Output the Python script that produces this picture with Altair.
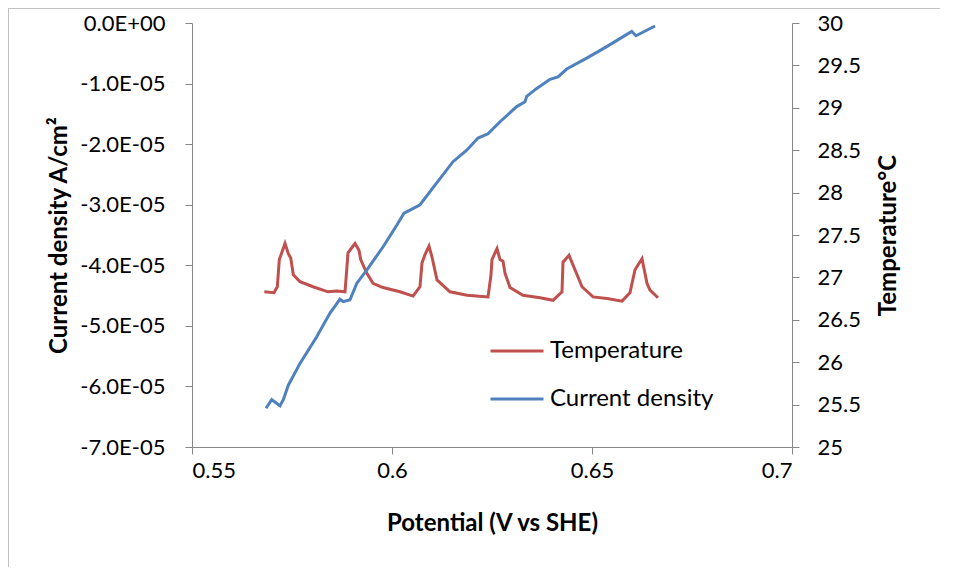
import altair as alt
import pandas as pd

# ---- data ----
cd_potential = [0.56850, 0.56993, 0.57200, 0.57283, 0.57408, 0.57700, 0.58118, 0.58450,
                0.58700, 0.58783, 0.58950, 0.59118, 0.59368, 0.59783, 0.60118, 0.60300,
                0.60450, 0.60700, 0.61118, 0.61525, 0.61868, 0.62150, 0.62400, 0.62700,
                0.63118, 0.63325, 0.63368, 0.63618, 0.63950, 0.64150, 0.64368, 0.64868,
                0.65368, 0.65993, 0.66100, 0.66575]
cd_values = [-6.36e-5, -6.22e-5, -6.32e-5, -6.22e-5, -5.98e-5, -5.62e-5, -5.18e-5, -4.79e-5,
             -4.56e-5, -4.60e-5, -4.57e-5, -4.30e-5, -4.08e-5, -3.69e-5, -3.34e-5, -3.14e-5,
             -3.09e-5, -3.00e-5, -2.64e-5, -2.29e-5, -2.10e-5, -1.90e-5, -1.83e-5, -1.63e-5,
             -1.38e-5, -1.30e-5, -1.21e-5, -1.08e-5, -0.93e-5, -0.89e-5, -0.76e-5, -0.58e-5,
             -0.39e-5, -0.14e-5, -0.21e-5, -0.05e-5]

temp_potential = [0.56808, 0.57050, 0.57133, 0.57183, 0.57325, 0.57408, 0.57468, 0.57533,
                  0.57700, 0.58025, 0.58400, 0.58618, 0.58825, 0.58868, 0.58900, 0.59075,
                  0.59175, 0.59218, 0.59368, 0.59525, 0.59775, 0.60200, 0.60525, 0.60700,
                  0.60750, 0.60825, 0.60925, 0.61000, 0.61125, 0.61450, 0.61875, 0.62400,
                  0.62475, 0.62500, 0.62625, 0.62700, 0.62775, 0.62825, 0.62950, 0.63275,
                  0.63700, 0.64025, 0.64250, 0.64275, 0.64425, 0.64575, 0.64750, 0.65025,
                  0.65375, 0.65750, 0.65950, 0.66075, 0.66250, 0.66375, 0.66450, 0.66650]
temp_values = [26.83, 26.82, 26.89, 27.21, 27.40, 27.28, 27.23, 27.03,
               26.95, 26.89, 26.83, 26.84, 26.83, 27.09, 27.29, 27.40,
               27.32, 27.21, 27.05, 26.93, 26.88, 26.83, 26.78, 26.89,
               27.17, 27.27, 27.37, 27.24, 26.97, 26.83, 26.79, 26.77,
               27.03, 27.21, 27.34, 27.21, 27.19, 27.05, 26.88, 26.79,
               26.76, 26.73, 26.83, 27.18, 27.26, 27.09, 26.89, 26.77,
               26.75, 26.72, 26.82, 27.09, 27.22, 26.93, 26.85, 26.76]

series_names = ["Temperature", "Current density"]
series_colors = ["#C0504D", "#4F81BD"]

x_ticks = [0.55, 0.6, 0.65, 0.7]
cd_ticks = [0, -1e-5, -2e-5, -3e-5, -4e-5, -5e-5, -6e-5, -7e-5]
temp_ticks = [25, 25.5, 26, 26.5, 27, 27.5, 28, 28.5, 29, 29.5, 30]

cd_df = pd.DataFrame({"potential": cd_potential, "value": cd_values,
                      "series": series_names[1], "idx": range(len(cd_values))})
temp_df = pd.DataFrame({"potential": temp_potential, "value": temp_values,
                        "series": series_names[0], "idx": range(len(temp_values))})

FONT = "Lato"
AXIS_GREY = "#868686"

x_enc = alt.X("potential:Q",
              scale=alt.Scale(domain=[x_ticks[0], x_ticks[-1]], nice=False, zero=False),
              axis=alt.Axis(values=x_ticks, format=".2~f", title="Potential (V vs SHE)",
                            titlePadding=30, labelPadding=6))

color_enc = alt.Color("series:N",
                      scale=alt.Scale(domain=series_names, range=series_colors),
                      legend=alt.Legend(title=None, orient="none", legendX=297, legendY=300,
                                        symbolType="stroke", symbolSize=2809,
                                        symbolStrokeWidth=3, labelFontSize=24,
                                        labelFont=FONT, labelColor="black", labelLimit=400,
                                        rowPadding=8, padding=0, labelOffset=5))

temp_line = alt.Chart(temp_df).mark_line(strokeWidth=3).encode(
    x=x_enc,
    y=alt.Y("value:Q",
            scale=alt.Scale(domain=[temp_ticks[0], temp_ticks[-1]], nice=False, zero=False),
            axis=alt.Axis(orient="right", values=temp_ticks, format=".1~f",
                          title="Temperature°C", titleAngle=270, titleBaseline="top",
                          titlePadding=16, labelPadding=18)),
    color=color_enc,
    order="idx:Q",
)

cd_line = alt.Chart(cd_df).mark_line(strokeWidth=3).encode(
    x=x_enc,
    y=alt.Y("value:Q",
            scale=alt.Scale(domain=[cd_ticks[-1], cd_ticks[0]], nice=False, zero=False),
            axis=alt.Axis(orient="left", values=cd_ticks,
                          labelExpr="datum.value == 0 ? '0.0E+00' : '-' + format(abs(datum.value) * 1e5, '.1f') + 'E-05'",
                          title="Current density A/cm²", titleFontSize=24,
                          titlePadding=8, labelPadding=20)),
    color=color_enc,
    order="idx:Q",
)

border = alt.Chart(pd.DataFrame({"k": [0]})).mark_rule(color="#C0C0C0", strokeWidth=1, clip=False).encode(
    x=alt.value(-183.5), y=alt.value(-15), y2=alt.value(560))
border_top = alt.Chart(pd.DataFrame({"k": [0]})).mark_rule(color="#C0C0C0", strokeWidth=1, clip=False).encode(
    x=alt.value(-184), x2=alt.value(760), y=alt.value(-14.5))

chart = alt.layer(temp_line, cd_line, border, border_top).resolve_scale(
    y="independent"
).properties(
    width=600, height=424,
    autosize=alt.AutoSizeParams(type="none"),
    padding={"left": 184, "top": 15, "right": 148, "bottom": 120},
).configure_view(stroke=None).configure_axis(
    grid=False, labelFont=FONT, labelFontSize=22, labelColor="black",
    titleFont=FONT, titleFontSize=24, titleFontWeight="bold", titleColor="black",
    domainColor=AXIS_GREY, tickColor=AXIS_GREY, tickSize=7, domainWidth=1, tickWidth=1,
)

chart.save("out.html", embed_options={"renderer": "svg", "actions": False})
